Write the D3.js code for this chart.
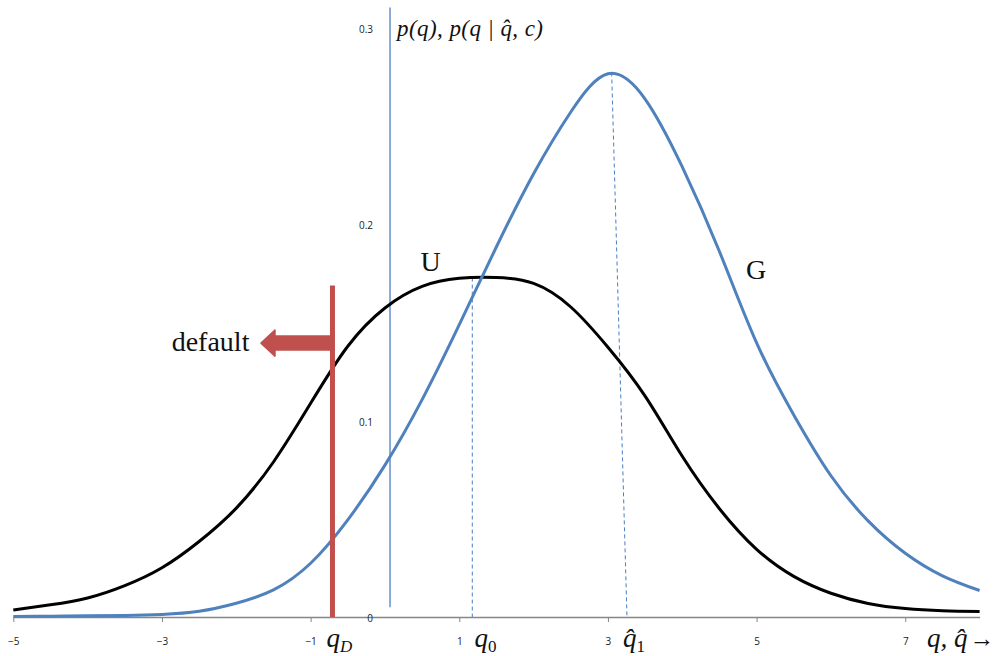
<!DOCTYPE html>
<html lang="en">
<head>
    <meta charset="UTF-8">
    <script src="https://cdn.jsdelivr.net/npm/d3@7"></script>
    <title>p(q) and p(q | q-hat, c)</title>
    <style>
        body { margin: 0; background: white; }
        .tick text { font-family: 'Open Sans', sans-serif; font-size: 10px; fill: #222; }
        .lbl { font-family: 'Liberation Serif', 'Times New Roman', serif; fill: #111; }
    </style>
</head>
<body>
<div id="chart"></div>
<script>
    const width = 993;
    const height = 656;

    // sample points of both curves
    const qValues = [-5, -4.5, -4, -3.5, -3, -2.5, -2, -1.5, -1, -0.5, 0, 0.5, 1, 1.5, 2, 2.5, 3, 3.5, 4, 4.5, 5, 5.5, 6, 6.5, 7, 7.5, 8];
    const uValues = [0.0036, 0.0062, 0.0097, 0.016, 0.0251, 0.0385, 0.0555, 0.079, 0.1089, 0.138, 0.1575, 0.1685, 0.1726, 0.1730, 0.1700, 0.158, 0.1375, 0.1126, 0.0819, 0.0552, 0.0345, 0.0207, 0.0121, 0.0069, 0.0043, 0.0032, 0.0028];
    const gValues = [0.0003, 0.0004, 0.0006, 0.0008, 0.0013, 0.0029, 0.007, 0.0138, 0.0274, 0.0495, 0.0774, 0.1108, 0.149, 0.1887, 0.2259, 0.2574, 0.2769, 0.264, 0.2294, 0.1863, 0.1397, 0.103, 0.072, 0.049, 0.0325, 0.021, 0.0135];

    const xTicks = [-5, -3, -1, 1, 3, 5, 7];
    const yTicks = [0, 0.1, 0.2, 0.3];

    // annotation positions in data units
    const qD = -0.706;
    const qDTop = 0.169;
    const arrowTip = -1.668;
    const arrowY = 0.1396;
    const q0 = 1.175;
    const q0Top = 0.173;
    const q1Top = [3.05, 0.2775];
    const q1Bottom = 3.256;
    const yAxisAt = 0.068;

    const x = d3.scaleLinear().domain([-5, 8]).range([13.3, 979.6]);
    const y = d3.scaleLinear().domain([0, 0.3]).range([617, 28.4]);

    const svg = d3.select("#chart").append("svg")
        .attr("width", width)
        .attr("height", height);

    // vertical axis line (blue)
    svg.append("line")
        .attr("x1", x(yAxisAt)).attr("x2", x(yAxisAt))
        .attr("y1", y(0.3107)).attr("y2", y(0.005))
        .attr("stroke", "#3f72bf")
        .attr("stroke-width", 1.2);

    // x axis
    const xAxis = svg.append("g")
        .attr("transform", `translate(0,${y(0)})`)
        .call(d3.axisBottom(x).tickValues(xTicks).tickSize(5).tickSizeOuter(0).tickPadding(16));
    xAxis.select(".domain").attr("stroke", "#868686").attr("stroke-width", 1.6);
    xAxis.selectAll(".tick line").attr("stroke", "#868686");

    // y axis labels
    const yAxis = svg.append("g")
        .attr("transform", `translate(373,1)`)
        .call(d3.axisLeft(y).tickValues(yTicks).tickSize(0).tickPadding(0)
            .tickFormat(d => d === 0 ? "0" : d3.format(".1f")(d)));
    yAxis.select(".domain").remove();

    // dashed guides
    const dashed = [
        [[q0, q0Top], [q0, 0]],
        [q1Top, [q1Bottom, 0]]
    ];
    svg.selectAll(".guide")
        .data(dashed)
        .enter()
        .append("line")
        .attr("class", "guide")
        .attr("x1", d => x(d[0][0])).attr("y1", d => y(d[0][1]))
        .attr("x2", d => x(d[1][0])).attr("y2", d => y(d[1][1]))
        .attr("stroke", "#4a7fc6")
        .attr("stroke-width", 1)
        .attr("stroke-dasharray", "4,3");

    const line = d3.line()
        .x((d, i) => x(qValues[i]))
        .y(d => y(d))
        .curve(d3.curveNatural);

    svg.append("path")
        .datum(uValues)
        .attr("fill", "none")
        .attr("stroke", "black")
        .attr("stroke-width", 3)
        .attr("d", line);

    svg.append("path")
        .datum(gValues)
        .attr("fill", "none")
        .attr("stroke", "#4f81bd")
        .attr("stroke-width", 3)
        .attr("d", line);

    // default cut-off line and arrow
    svg.append("line")
        .attr("x1", x(qD)).attr("x2", x(qD))
        .attr("y1", y(qDTop)).attr("y2", y(0))
        .attr("stroke", "#c0504d")
        .attr("stroke-width", 5);

    const ay = y(arrowY);
    const tipX = x(arrowTip);
    const tailX = x(qD);
    const headLen = 14, stemHalf = 7, headHalf = 13;
    svg.append("path")
        .attr("d", `M${tailX},${ay - stemHalf} L${tipX + headLen},${ay - stemHalf} L${tipX + headLen},${ay - headHalf} L${tipX},${ay} L${tipX + headLen},${ay + headHalf} L${tipX + headLen},${ay + stemHalf} L${tailX},${ay + stemHalf} Z`)
        .attr("fill", "#c0504d")
        .attr("stroke", "#c0504d")
        .attr("stroke-linejoin", "round")
        .attr("stroke-width", 1.5);

    // text labels
    svg.append("text").attr("class", "lbl")
        .attr("x", 171.7).attr("y", 351)
        .attr("font-size", 28)
        .text("default");

    svg.append("text").attr("class", "lbl")
        .attr("x", 420.5).attr("y", 271)
        .attr("font-size", 28)
        .text("U");

    svg.append("text").attr("class", "lbl")
        .attr("x", 746).attr("y", 278.5)
        .attr("font-size", 28)
        .text("G");

    svg.append("text").attr("class", "lbl")
        .attr("x", 397).attr("y", 36)
        .attr("font-size", 23)
        .attr("font-style", "italic")
        .attr("textLength", 146)
        .attr("lengthAdjust", "spacing")
        .text("p(q), p(q | q\u0302, c)");

    function subLabel(px, main, sub, subItalic) {
        const t = svg.append("text").attr("class", "lbl")
            .attr("x", px).attr("y", 647)
            .attr("font-size", 27);
        t.append("tspan").attr("font-style", "italic").text(main);
        t.append("tspan")
            .attr("dy", 5)
            .attr("font-size", 17)
            .attr("font-style", subItalic ? "italic" : "normal")
            .text(sub);
    }
    subLabel(326.5, "q", "D", true);
    subLabel(474.5, "q", "0", false);
    subLabel(623, "q\u0302", "1", false);

    const qt = svg.append("text").attr("class", "lbl")
        .attr("x", 927).attr("y", 647)
        .attr("font-size", 27);
    qt.append("tspan").attr("font-style", "italic").text("q, q\u0302");
    qt.append("tspan").attr("dx", 2).attr("font-size", 25).text("\u2192");
</script>
</body>
</html>
